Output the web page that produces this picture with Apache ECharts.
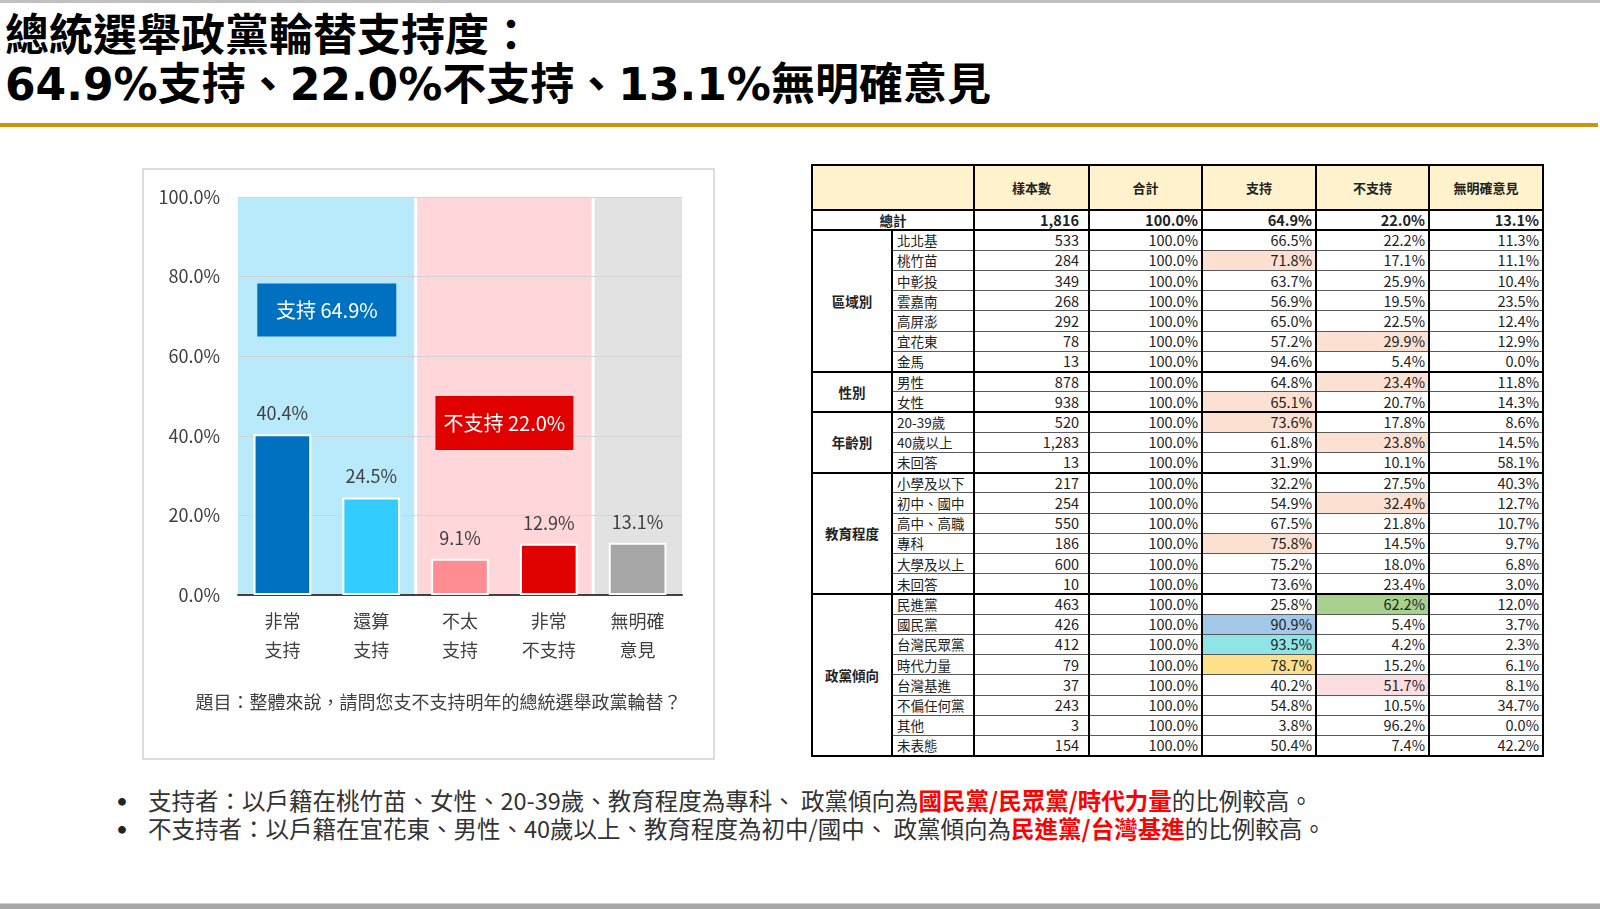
<!DOCTYPE html>
<html lang="zh-Hant-TW">
<head>
<meta charset="utf-8">
<script src="https://cdn.jsdelivr.net/npm/echarts/dist/echarts.min.js"></script>
<style>
  html,body{margin:0;padding:0;background:#fff;}
  body{width:1600px;height:909px;position:relative;overflow:hidden;font-family:"Noto Sans CJK TC","Noto Sans",sans-serif;}
  .abs{position:absolute;}
  #topline{left:0;top:0;width:1600px;height:3px;background:#C0C0C0;}
  .title{left:5px;font-family:"DejaVu Sans","Noto Sans CJK TC",sans-serif;font-weight:bold;font-size:44px;line-height:44px;color:#000;white-space:nowrap;}
  #goldline{left:0;top:123px;width:1598px;height:4px;background:#C9960C;}
  #bottomline{left:0;top:903px;width:1600px;height:6px;background:#A6A6A6;border-top:1px solid #D0D0D0;}
  #panel{left:142px;top:168px;width:569px;height:588px;border:2px solid #DCDCDC;background:#fff;}
  #chart{width:569px;height:588px;}
  #tbl{position:absolute;left:811px;top:164px;width:731px;border-collapse:collapse;table-layout:fixed;
       font-family:"Noto Sans CJK TC",sans-serif;font-size:13.5px;color:#222;border:2.5px solid #000;}
  #tbl th,#tbl td{padding:0 3px;border-left:2px solid #000;border-right:2px solid #000;
       border-top:1px solid #5a5a5a;border-bottom:1px solid #5a5a5a;white-space:nowrap;overflow:hidden;line-height:16px;}
  #tbl tr.hd{height:45px;}
  #tbl tr.hd th{background:#FFF2CC;font-weight:bold;font-size:13px;text-align:center;border-bottom:2px solid #000;}
  #tbl tr.tot{height:20px;}
  #tbl tr.tot td{font-weight:bold;border-bottom:2px solid #000;}
  #tbl tr.d{height:20.23px;}
  #tbl tr.gs td{border-top:2px solid #000;}
  #tbl td.grp{font-weight:bold;text-align:center;border-top:2px solid #000;border-bottom:2px solid #000;}
  #tbl td.c{text-align:center;}
  #tbl td.lab{text-align:left;padding-left:4px;}
  #tbl td.n{text-align:right;padding-right:3px;font-size:14.5px;}
  #tbl td.s{padding-right:9px;}
  #bullets{left:0;top:786px;font-size:23.5px;line-height:28px;color:#333;white-space:nowrap;}
  .bl{position:relative;height:28px;}
  .bl .dot{position:absolute;left:107px;font-size:30px;font-weight:bold;color:#222;}
  .bl .tx{position:absolute;left:148px;}
  .red{color:#FF0000;font-weight:bold;}
</style>
</head>
<body>
<div id="topline" class="abs"></div>
<div class="abs title" style="top:14px">總統選舉政黨輪替支持度：</div>
<div class="abs title" id="title2" style="top:62.5px"></div>
<div id="goldline" class="abs"></div>

<div id="panel" class="abs"><div id="chart"></div></div>

<table id="tbl">
  <colgroup>
    <col style="width:80px"><col style="width:82px"><col style="width:115px"><col style="width:113px">
    <col style="width:114px"><col style="width:113px"><col style="width:114px">
  </colgroup>
  <tbody id="tbody"></tbody>
</table>

<div id="bullets" class="abs">
  <div class="bl"><span class="dot">•</span><span class="tx" id="b1"></span></div>
  <div class="bl"><span class="dot">•</span><span class="tx" id="b2"></span></div>
</div>
<div id="bottomline" class="abs"></div>

<script>
// ---------------- DATA ----------------
const categories = ['非常\n支持', '還算\n支持', '不太\n支持', '非常\n不支持', '無明確\n意見'];
const values = [40.4, 24.5, 9.1, 12.9, 13.1];
const yTicks = [0, 20, 40, 60, 80, 100];
const summaryLabels = ['支持', '不支持'];
const summaryValues = [64.9, 22.0];
const summaryNoOpinion = 13.1;
const question = '題目：整體來說，請問您支不支持明年的總統選舉政黨輪替？';

const tableHeaders = ['樣本數', '合計', '支持', '不支持', '無明確意見'];
const totalLabel = '總計';
const totalRow = [1816, 100.0, 64.9, 22.0, 13.1];
const groups = ['區域別', '性別', '年齡別', '教育程度', '政黨傾向'];
const groupSizes = [7, 2, 3, 6, 8];
const subLabels = ['北北基', '桃竹苗', '中彰投', '雲嘉南', '高屏澎', '宜花東', '金馬',
  '男性', '女性',
  '20-39歲', '40歲以上', '未回答',
  '小學及以下', '初中、國中', '高中、高職', '專科', '大學及以上', '未回答',
  '民進黨', '國民黨', '台灣民眾黨', '時代力量', '台灣基進', '不偏任何黨', '其他', '未表態'];
const samples = [533, 284, 349, 268, 292, 78, 13,
  878, 938,
  520, 1283, 13,
  217, 254, 550, 186, 600, 10,
  463, 426, 412, 79, 37, 243, 3, 154];
const totalPct = [100.0, 100.0, 100.0, 100.0, 100.0, 100.0, 100.0,
  100.0, 100.0,
  100.0, 100.0, 100.0,
  100.0, 100.0, 100.0, 100.0, 100.0, 100.0,
  100.0, 100.0, 100.0, 100.0, 100.0, 100.0, 100.0, 100.0];
const supportPct = [66.5, 71.8, 63.7, 56.9, 65.0, 57.2, 94.6,
  64.8, 65.1,
  73.6, 61.8, 31.9,
  32.2, 54.9, 67.5, 75.8, 75.2, 73.6,
  25.8, 90.9, 93.5, 78.7, 40.2, 54.8, 3.8, 50.4];
const opposePct = [22.2, 17.1, 25.9, 19.5, 22.5, 29.9, 5.4,
  23.4, 20.7,
  17.8, 23.8, 10.1,
  27.5, 32.4, 21.8, 14.5, 18.0, 23.4,
  62.2, 5.4, 4.2, 15.2, 51.7, 10.5, 96.2, 7.4];
const noOpinionPct = [11.3, 11.1, 10.4, 23.5, 12.4, 12.9, 0.0,
  11.8, 14.3,
  8.6, 14.5, 58.1,
  40.3, 12.7, 10.7, 9.7, 6.8, 3.0,
  12.0, 3.7, 2.3, 6.1, 8.1, 34.7, 0.0, 42.2];
// highlighted cells: [row, column(3=支持,4=不支持), highlight kind]
const highlights = [[1, 3, 'peach'], [5, 4, 'peach'], [7, 4, 'peach'], [8, 3, 'peach'],
  [9, 3, 'peach'], [10, 4, 'peach'], [13, 4, 'peach'], [15, 3, 'peach'],
  [18, 4, 'green'], [19, 3, 'blue'], [20, 3, 'cyan'], [21, 3, 'yellow'], [22, 4, 'pink']];

const bullet1 = ['支持者：以戶籍在桃竹苗、女性、20-39歲、教育程度為專科、 政黨傾向為', '國民黨/民眾黨/時代力量', '的比例較高。'];
const bullet2 = ['不支持者：以戶籍在宜花東、男性、40歲以上、教育程度為初中/國中、 政黨傾向為', '民進黨/台灣基進', '的比例較高。'];

// ---------------- STYLES ----------------
const FONT = '"Noto Sans CJK TC","Noto Sans",sans-serif';
const barColors = ['#0070C0', '#33CCFF', '#FF8C90', '#E00000', '#A6A6A6'];
const bandColors = ['#B9EAFB', '#FFD7DA', '#E2E2E2'];
const bandRanges = [[0, 1], [2, 3], [4, 4]];
const boxColors = ['#0070C0', '#E00000'];
const hlColors = {peach: '#FCE0D2', green: '#A9D18E', blue: '#A4C8EA', cyan: '#8FE4E6', yellow: '#FFE08A', pink: '#FCDDE0'};

// ---------------- TITLE / BULLETS ----------------
const pct = v => v.toFixed(1) + '%';
document.getElementById('title2').textContent =
  pct(summaryValues[0]) + summaryLabels[0] + '、' + pct(summaryValues[1]) + summaryLabels[1] + '、' + pct(summaryNoOpinion) + '無明確意見';
function setBullet(id, parts) {
  document.getElementById(id).innerHTML = parts[0] + '<span class="red">' + parts[1] + '</span>' + parts[2];
}
setBullet('b1', bullet1);
setBullet('b2', bullet2);

// ---------------- TABLE ----------------
(function buildTable() {
  const hl = {};
  highlights.forEach(h => { hl[h[0] + '_' + h[1]] = hlColors[h[2]]; });
  let html = '<tr class="hd"><th colspan="2"></th>' + tableHeaders.map(h => '<th>' + h + '</th>').join('') + '</tr>';
  html += '<tr class="tot"><td colspan="2" class="c">' + totalLabel + '</td>' +
    '<td class="n s">' + totalRow[0].toLocaleString('en-US') + '</td>' +
    totalRow.slice(1).map(v => '<td class="n">' + pct(v) + '</td>').join('') + '</tr>';
  let r = 0;
  groups.forEach((g, gi) => {
    for (let k = 0; k < groupSizes[gi]; k++) {
      const cls = 'd' + (k === 0 ? ' gs' : '');
      html += '<tr class="' + cls + '">';
      if (k === 0) html += '<td class="grp" rowspan="' + groupSizes[gi] + '">' + g + '</td>';
      html += '<td class="lab">' + subLabels[r] + '</td>';
      html += '<td class="n s">' + samples[r].toLocaleString('en-US') + '</td>';
      const cols = [totalPct[r], supportPct[r], opposePct[r], noOpinionPct[r]];
      cols.forEach((v, ci) => {
        const bg = hl[r + '_' + (ci + 2)];
        html += '<td class="n"' + (bg ? ' style="background:' + bg + '"' : '') + '>' + pct(v) + '</td>';
      });
      html += '</tr>';
      r++;
    }
  });
  document.getElementById('tbody').innerHTML = html;
})();

// ---------------- CHART ----------------
const chart = echarts.init(document.getElementById('chart'));
const option = {
  animation: false,
  backgroundColor: '#fff',
  grid: {left: 94, right: 31, top: 27, bottom: 163},
  xAxis: {
    type: 'category',
    data: categories,
    axisTick: {show: false},
    axisLine: {lineStyle: {color: '#404040', width: 2}},
    axisLabel: {color: '#404040', fontSize: 18, lineHeight: 29, margin: 12, fontFamily: FONT}
  },
  yAxis: {
    type: 'value',
    min: yTicks[0], max: yTicks[yTicks.length - 1], interval: yTicks[1] - yTicks[0],
    axisLine: {show: false},
    axisTick: {show: false},
    axisLabel: {formatter: v => v.toFixed(1) + '%', color: '#404040', fontSize: 18, margin: 18, fontFamily: FONT},
    splitLine: {lineStyle: {color: '#D4D4D4', width: 1}}
  },
  series: [
    {
      type: 'custom',
      z: -1,
      silent: true,
      encode: {x: [0, 1]},
      data: bandRanges,
      renderItem: function (params, api) {
        const s = api.value(0), e = api.value(1);
        const w = api.size([1, 0])[0];
        const pTop = api.coord([s, yTicks[yTicks.length - 1]]);
        const pBot = api.coord([e, 0]);
        const x0 = pTop[0] - w / 2 + (s > 0 ? 1.5 : 0);
        const x1 = pBot[0] + w / 2 - (e < categories.length - 1 ? 1.5 : 0);
        return {
          type: 'rect',
          shape: {x: x0, y: pTop[1], width: x1 - x0, height: pBot[1] - pTop[1]},
          style: {fill: bandColors[params.dataIndex]}
        };
      }
    },
    {
      type: 'bar',
      barWidth: '65%',
      data: values.map((v, i) => ({value: v, itemStyle: {color: barColors[i]}})),
      itemStyle: {borderColor: '#FFFFFF', borderWidth: 2},
      label: {
        show: true, position: 'top', distance: 12,
        formatter: p => p.value.toFixed(1) + '%',
        color: '#404040', fontSize: 18, fontFamily: FONT
      }
    }
  ]
};
chart.setOption(option);

// annotation boxes & question text
const px = (c, v) => chart.convertToPixel({gridIndex: 0}, [c, v]);
const boxSpecs = [
  {cats: [0, 1], yVal: 71.6, w: 139, h: 53},
  {cats: [2, 3], yVal: 43.2, w: 138, h: 54}
];
const graphics = boxSpecs.map((b, i) => {
  const cx = (px(b.cats[0], 0)[0] + px(b.cats[1], 0)[0]) / 2;
  const cy = px(0, b.yVal)[1];
  return {
    type: 'group',
    children: [
      {type: 'rect', shape: {x: cx - b.w / 2, y: cy - b.h / 2, width: b.w, height: b.h}, style: {fill: boxColors[i]}},
      {type: 'text', x: cx, y: cy, style: {text: summaryLabels[i] + ' ' + pct(summaryValues[i]), fill: '#fff',
        fontSize: 20, fontFamily: FONT, align: 'center', verticalAlign: 'middle'}}
    ]
  };
});
graphics.push({
  type: 'text', x: 294.5, y: 532,
  style: {text: question, fill: '#404040', fontSize: 18, fontFamily: FONT, align: 'center', verticalAlign: 'middle'}
});
chart.setOption({graphic: graphics});
</script>
</body>
</html>
